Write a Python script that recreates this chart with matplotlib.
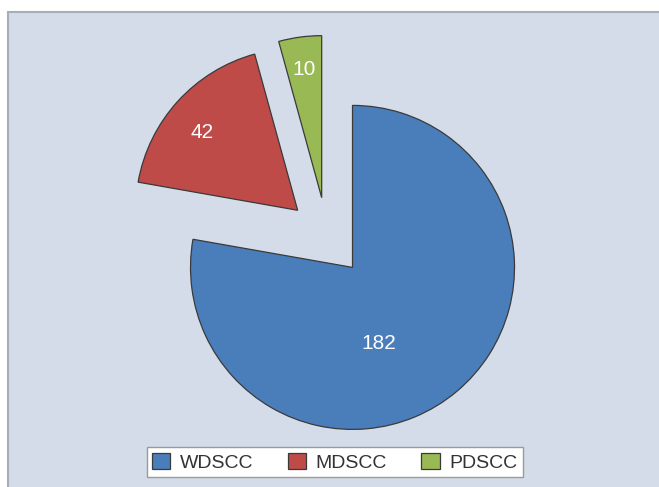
import numpy as np
import matplotlib.pyplot as plt
from matplotlib.patches import Rectangle

# data
categories = ['WDSCC', 'MDSCC', 'PDSCC']
counts = [182, 42, 10]
colors = ['#4a7ebb', '#be4b48', '#98b954']

plt.rcParams['font.family'] = ['Liberation Sans', 'DejaVu Sans']

fig = plt.figure(figsize=(6.59, 4.87), dpi=100)
fig.patch.set_facecolor('white')

# panel background with grey border
fig.patches.append(Rectangle((8 / 659, -0.01), 1.0, 1 - 12 / 487 + 0.01,
                             transform=fig.transFigure, facecolor='#d5dce9',
                             edgecolor='#a7aeb8', linewidth=1.5, zorder=-10))

ax = fig.add_axes([0, 0, 1, 1])
ax.set_facecolor('none')

wedges, texts, autotexts = ax.pie(
    counts, colors=colors, startangle=90, counterclock=False,
    explode=[0.245] * 3, radius=1.0,
    autopct=lambda p: '%d' % round(p * sum(counts) / 100),
    pctdistance=0.78,
    wedgeprops=dict(edgecolor='#3a3a3a', linewidth=0.9),
    textprops=dict(color='white', fontsize=15))

# label placement inside each slice (angle in degrees, fraction of radius)
label_spots = [(-71, 0.5), (141, 0.76), (98, 0.8)]
for w, t, (ang, dist) in zip(wedges, autotexts, label_spots):
    cx, cy = w.center
    a = np.deg2rad(ang)
    t.set_position((cx + dist * np.cos(a), cy + dist * np.sin(a)))

ax.set_xlim(-327 / 162, 332 / 162)
ax.set_ylim(-250 / 162, 237 / 162)
ax.set_aspect('auto')
ax.axis('off')

leg = ax.legend(wedges, categories, loc='center', ncol=3,
                bbox_to_anchor=(0.508, 0.051), bbox_transform=fig.transFigure,
                fontsize=14, frameon=True, fancybox=False, framealpha=1.0,
                handlelength=0.95, handleheight=0.95, handletextpad=0.5,
                columnspacing=1.75, borderpad=0.28, borderaxespad=0)
leg.get_frame().set_edgecolor('#9a9a9a')
leg.get_frame().set_linewidth(1.0)
leg.get_frame().set_facecolor('white')
for t in leg.get_texts():
    t.set_color('#333333')

fig.savefig('out.png', dpi=100)
